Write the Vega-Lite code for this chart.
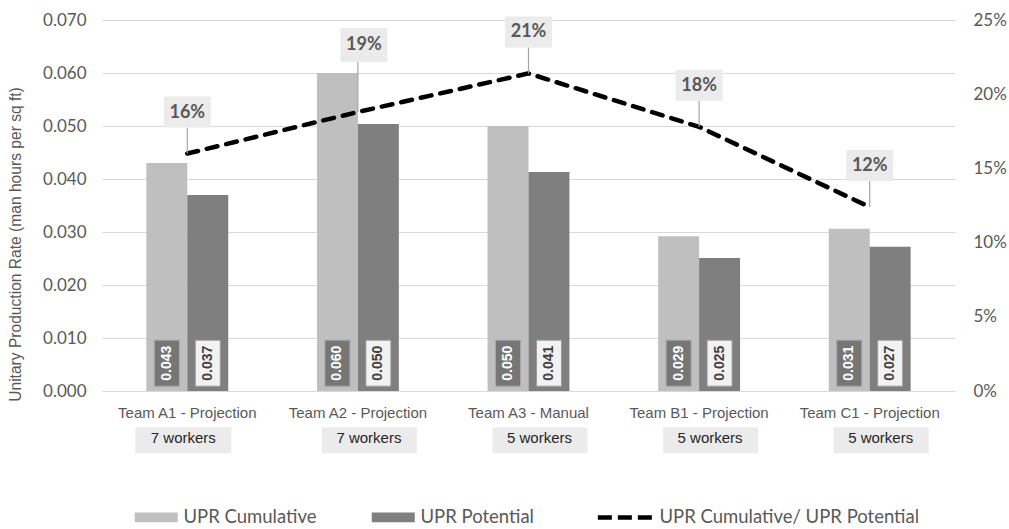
{
  "$schema": "https://vega.github.io/schema/vega-lite/v6.json",
  "autosize": {"type": "none"},
  "padding": {"left": 102, "top": 20, "right": 54, "bottom": 138},
  "width": 853,
  "height": 371,
  "background": "white",
  "config": {"view": {"stroke": null}},
  "datasets": {
    "bars": [
      {"team": "Team A1 - Projection", "series": "UPR Cumulative", "value": 0.043},
      {"team": "Team A1 - Projection", "series": "UPR Potential", "value": 0.037},
      {"team": "Team A2 - Projection", "series": "UPR Cumulative", "value": 0.060},
      {"team": "Team A2 - Projection", "series": "UPR Potential", "value": 0.0504},
      {"team": "Team A3 - Manual", "series": "UPR Cumulative", "value": 0.050},
      {"team": "Team A3 - Manual", "series": "UPR Potential", "value": 0.0413},
      {"team": "Team B1 - Projection", "series": "UPR Cumulative", "value": 0.0292},
      {"team": "Team B1 - Projection", "series": "UPR Potential", "value": 0.0251},
      {"team": "Team C1 - Projection", "series": "UPR Cumulative", "value": 0.0306},
      {"team": "Team C1 - Projection", "series": "UPR Potential", "value": 0.0272}
    ],
    "teams": [
      {"team": "Team A1 - Projection", "workers": "7 workers", "ratio": 0.160},
      {"team": "Team A2 - Projection", "workers": "7 workers", "ratio": 0.188},
      {"team": "Team A3 - Manual", "workers": "5 workers", "ratio": 0.214},
      {"team": "Team B1 - Projection", "workers": "5 workers", "ratio": 0.178},
      {"team": "Team C1 - Projection", "workers": "5 workers", "ratio": 0.124}
    ]
  },
  "encoding": {
    "x": {
      "field": "team",
      "type": "nominal",
      "sort": ["Team A1 - Projection", "Team A2 - Projection", "Team A3 - Manual", "Team B1 - Projection", "Team C1 - Projection"],
      "scale": {"paddingInner": 0.52, "paddingOuter": 0.26},
      "axis": {
        "title": null,
        "labelAngle": 0,
        "domain": false,
        "ticks": false,
        "grid": false,
        "labelPadding": 14,
        "labelFont": "Liberation Sans",
        "labelFontSize": 15,
        "labelColor": "#595959",
        "labelLimit": 300
      }
    }
  },
  "layer": [
    {
      "layer": [
        {
          "data": {"name": "bars"},
          "mark": {"type": "bar"},
          "encoding": {
            "xOffset": {"field": "series", "sort": ["UPR Cumulative", "UPR Potential"], "scale": {"paddingInner": 0, "paddingOuter": 0}},
            "y": {
              "field": "value",
              "type": "quantitative",
              "scale": {"domain": [0, 0.07], "nice": false},
              "axis": {
                "title": "Unitary Production Rate (man hours per sq ft)",
                "values": [0, 0.01, 0.02, 0.03, 0.04, 0.05, 0.06, 0.07],
                "format": ".3f",
                "grid": true,
                "gridColor": "#d9d9d9",
                "gridWidth": 1,
                "domain": false,
                "ticks": false,
                "labelPadding": 16,
                "labelFont": "Lato",
                "labelFontSize": 17,
                "labelColor": "#595959",
                "titleFont": "Liberation Sans",
                "titleFontSize": 15.6,
                "titleFontWeight": "normal",
                "titleColor": "#595959",
                "titlePadding": 19,
                "titleY": 224
              }
            },
            "color": {
              "field": "series",
              "type": "nominal",
              "scale": {
                "domain": ["UPR Cumulative", "UPR Potential", "UPR Cumulative/ UPR Potential"],
                "range": ["#bfbfbf", "#7f7f7f", "#000000"]
              },
              "legend": {
                "orient": "none",
                "legendX": 45,
                "legendY": 488,
                "direction": "horizontal",
                "title": null,
                "padding": 0,
                "symbolSize": 1849,
                "columnPadding": 54,
                "labelOffset": 18,
                "labelFont": "Lato",
                "labelFontSize": 18.5,
                "labelColor": "#595959",
                "labelLimit": 400,
                "encode": {
                  "symbols": {
                    "update": {
                      "shape": {"signal": "datum.value === 'UPR Cumulative/ UPR Potential' ? 'M-1.6,0H1' : 'M-1,-0.23H1V0.23H-1Z'"},
                      "fill": {"signal": "datum.value === 'UPR Cumulative/ UPR Potential' ? 'transparent' : scale('color', datum.value)"},
                      "stroke": {"signal": "datum.value === 'UPR Cumulative/ UPR Potential' ? '#000000' : 'transparent'"},
                      "strokeWidth": {"signal": "datum.value === 'UPR Cumulative/ UPR Potential' ? 4.5 : 0"},
                      "strokeDash": {"signal": "datum.value === 'UPR Cumulative/ UPR Potential' ? [14,6] : [1,0]"},
                      "opacity": {"value": 1}
                    }
                  }
                }
              }
            }
          }
        },
        {
          "data": {"name": "bars"},
          "mark": {"type": "point", "filled": true, "opacity": 1, "size": 2500, "shape": "M-0.5,-0.92H0.5V0.92H-0.5Z", "strokeWidth": 1},
          "encoding": {
            "xOffset": {"field": "series", "sort": ["UPR Cumulative", "UPR Potential"]},
            "y": {"datum": 0.00525, "type": "quantitative"},
            "fill": {"condition": {"test": "datum.series === 'UPR Cumulative'", "value": "#767676"}, "value": "#f2f2f2"},
            "stroke": {"condition": {"test": "datum.series === 'UPR Cumulative'", "value": "#a6a6a6"}, "value": "#9a9a9a"}
          }
        },
        {
          "data": {"name": "bars"},
          "mark": {"type": "text", "angle": 270, "font": "Liberation Sans", "fontWeight": "bold", "fontSize": 14, "baseline": "middle", "align": "center"},
          "encoding": {
            "xOffset": {"field": "series", "sort": ["UPR Cumulative", "UPR Potential"]},
            "y": {"datum": 0.00525, "type": "quantitative"},
            "text": {"field": "value", "format": ".3f"},
            "color": {"condition": {"test": "datum.series === 'UPR Cumulative'", "value": "#ffffff"}, "value": "#404040"}
          }
        },
        {
          "data": {"name": "teams"},
          "transform": [{"filter": "datum.team === 'Team A1 - Projection'"}],
          "mark": {"type": "point", "filled": true, "opacity": 1, "size": 10000, "shape": "M-1.04,-0.22H0.88V0.30H-1.04Z", "fill": "#ebebeb", "strokeWidth": 0},
          "encoding": {"y": {"datum": -0.0089, "type": "quantitative"}}
        },
        {
          "data": {"name": "teams"},
          "transform": [{"filter": "datum.team !== 'Team A1 - Projection'"}],
          "mark": {"type": "point", "filled": true, "opacity": 1, "size": 10000, "shape": "M-0.72,-0.22H1.18V0.30H-0.72Z", "fill": "#ebebeb", "strokeWidth": 0},
          "encoding": {"y": {"datum": -0.0089, "type": "quantitative"}}
        },
        {
          "data": {"name": "teams"},
          "transform": [{"filter": "datum.team === 'Team A1 - Projection'"}],
          "mark": {"type": "text", "font": "Liberation Sans", "fontSize": 15, "color": "#262626", "baseline": "middle", "align": "center", "dx": -4},
          "encoding": {"y": {"datum": -0.0089, "type": "quantitative"}, "text": {"field": "workers"}}
        },
        {
          "data": {"name": "teams"},
          "transform": [{"filter": "datum.team !== 'Team A1 - Projection'"}],
          "mark": {"type": "text", "font": "Liberation Sans", "fontSize": 15, "color": "#262626", "baseline": "middle", "align": "center", "dx": 11},
          "encoding": {"y": {"datum": -0.0089, "type": "quantitative"}, "text": {"field": "workers"}}
        }
      ]
    },
    {
      "data": {"name": "teams"},
      "layer": [
        {
          "mark": {"type": "line", "strokeWidth": 4.5, "strokeDash": [11, 9], "strokeCap": "round"},
          "encoding": {
            "y": {
              "field": "ratio",
              "type": "quantitative",
              "scale": {"domain": [0, 0.25], "nice": false},
              "axis": {
                "orient": "right",
                "title": null,
                "values": [0, 0.05, 0.1, 0.15, 0.2, 0.25],
                "format": ".0%",
                "grid": false,
                "domain": false,
                "ticks": false,
                "labelPadding": 18,
                "labelFont": "Lato",
                "labelFontSize": 17,
                "labelColor": "#595959"
              }
            },
            "color": {"datum": "UPR Cumulative/ UPR Potential"}
          }
        },
        {
          "transform": [{"filter": "datum.team !== 'Team A2 - Projection'"}],
          "mark": {"type": "point", "filled": false, "opacity": 1, "size": 2500, "shape": "M0,0V-1.04", "stroke": "#a6a6a6", "strokeWidth": 1.2},
          "encoding": {"y": {"field": "ratio", "type": "quantitative"}}
        },
        {
          "transform": [{"filter": "datum.team === 'Team A2 - Projection'"}],
          "mark": {"type": "point", "filled": false, "opacity": 1, "size": 2500, "shape": "M0,0V-2.0", "stroke": "#a6a6a6", "strokeWidth": 1.2},
          "encoding": {"y": {"field": "ratio", "type": "quantitative"}}
        },
        {
          "transform": [{"filter": "datum.team !== 'Team A2 - Projection'"}],
          "mark": {"type": "point", "filled": true, "opacity": 1, "size": 10000, "shape": "M-0.47,-1.14H0.47V-0.52H-0.47Z", "fill": "#ebebeb", "strokeWidth": 0},
          "encoding": {"y": {"field": "ratio", "type": "quantitative"}}
        },
        {
          "transform": [{"filter": "datum.team === 'Team A2 - Projection'"}],
          "mark": {"type": "point", "filled": true, "opacity": 1, "size": 10000, "shape": "M-0.35,-1.68H0.59V-1.0H-0.35Z", "fill": "#ebebeb", "strokeWidth": 0},
          "encoding": {"y": {"field": "ratio", "type": "quantitative"}}
        },
        {
          "transform": [{"filter": "datum.team !== 'Team A2 - Projection'"}],
          "mark": {"type": "text", "font": "Lato", "fontWeight": "bold", "fontSize": 18, "color": "#595959", "baseline": "middle", "align": "center", "dy": -41},
          "encoding": {"y": {"field": "ratio", "type": "quantitative"}, "text": {"field": "ratio", "format": ".0%"}}
        },
        {
          "transform": [{"filter": "datum.team === 'Team A2 - Projection'"}],
          "mark": {"type": "text", "font": "Lato", "fontWeight": "bold", "fontSize": 18, "color": "#595959", "baseline": "middle", "align": "center", "dy": -67, "dx": 6},
          "encoding": {"y": {"field": "ratio", "type": "quantitative"}, "text": {"field": "ratio", "format": ".0%"}}
        }
      ]
    }
  ],
  "resolve": {"scale": {"y": "independent"}}
}
